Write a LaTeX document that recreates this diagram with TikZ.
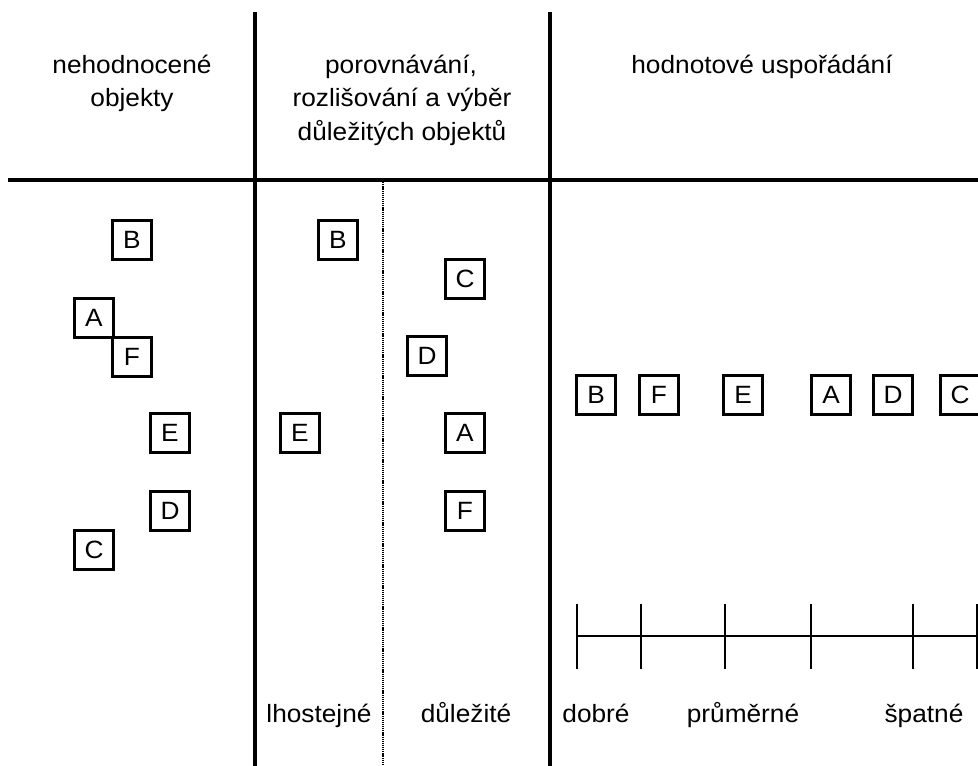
\documentclass[tikz,border=0pt]{standalone}
\usepackage{fontspec}
\setmainfont[FakeStretch=1.05]{Liberation Sans}
\begin{document}
\begin{tikzpicture}[x=1pt,y=-1pt,
  obj/.style={draw,line width=2.6pt,minimum size=39pt,inner sep=0pt,font=\fontsize{25}{30}\selectfont},
  lbl/.style={font=\fontsize{25}{30}\selectfont,anchor=base,inner sep=0pt},
  thickline/.style={line width=3.6pt},
  scaleline/.style={line width=2.6pt},
  tickline/.style={line width=1.8pt},
  dotline/.style={line width=1.3pt,dash pattern=on 1.2pt off 0.9pt}]
\useasboundingbox (0,0) rectangle (978,766);
% frame lines
\coordinate (v1t) at (255,12); \coordinate (v1b) at (255,766);
\coordinate (v2t) at (550,12); \coordinate (v2b) at (550,766);
\coordinate (hl) at (8,180); \coordinate (hr) at (978,180);
\coordinate (dt) at (383,180); \coordinate (db) at (383,766);
\draw[thickline] (hl) -- (hr);
\draw[thickline] (v1t) -- (v1b);
\draw[thickline] (v2t) -- (v2b);
\draw[dotline] (dt) -- (db);
% headers
\node[lbl] (h1a) at (132,73) {nehodnocené};
\node[lbl] (h1b) at (132,106) {objekty};
\node[lbl] (h2a) at (401,73) {porovnávání,};
\node[lbl] (h2b) at (402,106) {rozlišování a výběr};
\node[lbl] (h2c) at (402,140) {důležitých objektů};
\node[lbl] (h3) at (762,73) {hodnotové uspořádání};
% left column
\node[obj] (lB) at (132,240) {B};
\node[obj] (lA) at (94,318) {A};
\node[obj] (lF) at (132,357) {F};
\node[obj] (lE) at (170,433) {E};
\node[obj] (lD) at (170,511) {D};
\node[obj] (lC) at (94,550) {C};
% middle column
\node[obj] (mB) at (338,240) {B};
\node[obj] (mC) at (465,279) {C};
\node[obj] (mD) at (427,356) {D};
\node[obj] (mE) at (300,433) {E};
\node[obj] (mA) at (465,433) {A};
\node[obj] (mF) at (465,511) {F};
% right row
\node[obj] (rB) at (596,395) {B};
\node[obj] (rF) at (659,395) {F};
\node[obj] (rE) at (743,395) {E};
\node[obj] (rA) at (831,395) {A};
\node[obj] (rD) at (893,395) {D};
\node[obj] (rC) at (960,395) {C};
% scale
\coordinate (s0) at (577,636);
\coordinate (s1) at (641,636);
\coordinate (s2) at (725,636);
\coordinate (s3) at (811,636);
\coordinate (s4) at (913,636);
\coordinate (s5) at (977,636);
\coordinate (send) at (978,636);
\draw[scaleline] (s0) -- (send);
\foreach \t in {s0,s1,s2,s3,s4,s5}{
  \draw[tickline] ([yshift=-33pt]\t) -- ([yshift=32pt]\t);
}
% bottom labels
\node[lbl] (b1) at (319,722) {lhostejné};
\node[lbl] (b2) at (466,722) {důležité};
\node[lbl] (b3) at (596,722) {dobré};
\node[lbl] (b4) at (743,722) {průměrné};
\node[lbl] (b5) at (924,722) {špatné};
\end{tikzpicture}
\end{document}
